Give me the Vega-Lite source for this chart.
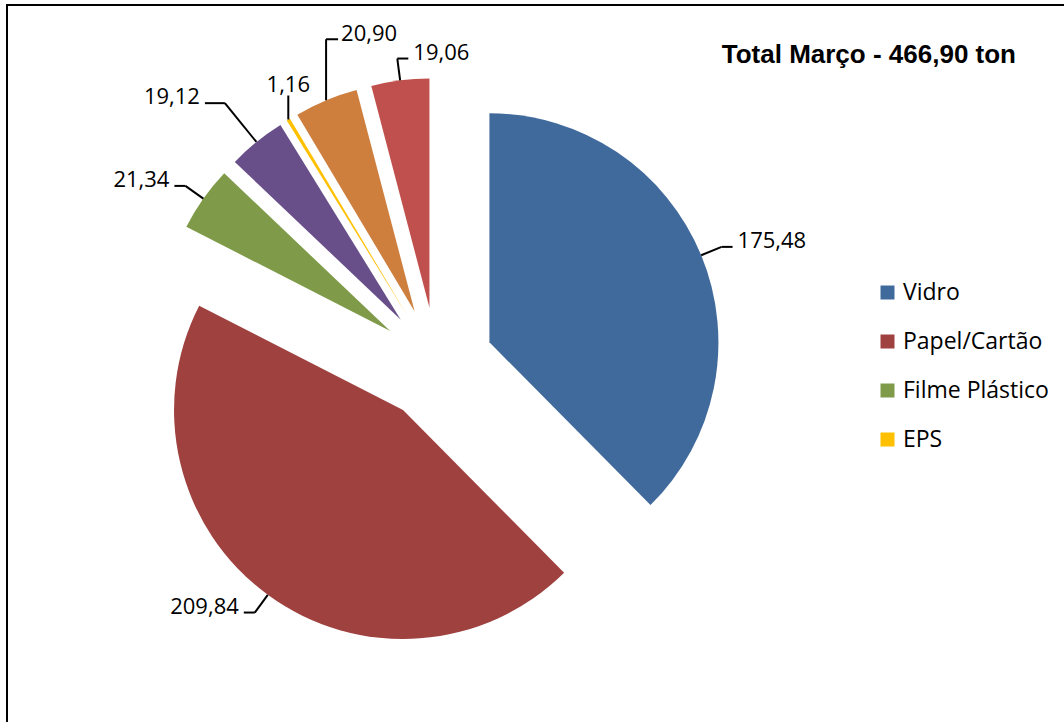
{
  "$schema": "https://vega.github.io/schema/vega-lite/v6.json",
  "width": 1064,
  "height": 722,
  "autosize": {"type": "none"},
  "padding": {"left": 7, "top": 5, "right": 0, "bottom": 0},
  "background": "white",
  "config": {"view": {"stroke": "black", "strokeWidth": 2}, "font": "Open Sans"},
  "title": {
    "text": "Total Março - 466,90 ton",
    "anchor": "end",
    "frame": "group",
    "font": "Liberation Sans",
    "fontSize": 26,
    "fontWeight": "bold",
    "color": "black",
    "baseline": "alphabetic",
    "offset": 0,
    "dx": -55,
    "dy": 84
  },
  "data": {
    "values": [
      {"categoria": "Vidro", "valor": 175.48, "ordem": 1},
      {"categoria": "Papel/Cartão", "valor": 209.84, "ordem": 2},
      {"categoria": "Filme Plástico", "valor": 21.34, "ordem": 3},
      {"categoria": "Plástico Rígido", "valor": 19.12, "ordem": 4},
      {"categoria": "EPS", "valor": 1.16, "ordem": 5},
      {"categoria": "Metal", "valor": 20.90, "ordem": 6},
      {"categoria": "Outros", "valor": 19.06, "ordem": 7}
    ]
  },
  "transform": [
    {"joinaggregate": [{"op": "sum", "field": "valor", "as": "total"}]},
    {"window": [{"op": "sum", "field": "valor", "as": "acum"}], "sort": [{"field": "ordem", "order": "ascending"}], "frame": [null, 0]},
    {"calculate": "2*PI*(datum.acum - datum.valor)/datum.total", "as": "a0"},
    {"calculate": "2*PI*datum.acum/datum.total", "as": "a1"},
    {"calculate": "(datum.a0 + datum.a1)/2", "as": "am"},
    {"calculate": "sin(datum.am)", "as": "sx"},
    {"calculate": "-cos(datum.am)", "as": "sy"},
    {"calculate": "57*datum.sx", "as": "cx"},
    {"calculate": "57*datum.sy", "as": "cy"},
    {"calculate": "datum.sx >= -0.2 ? 1 : -1", "as": "lado"},
    {"calculate": "(datum.valor/datum.total < 0.1 && datum.ordem % 2 == 0) ? 1 : 0", "as": "longo"},
    {"calculate": "(datum.sy < -0.8 && datum.sx < -0.2) ? (datum.longo == 1 ? 2 : 1) : 0", "as": "modo"},
    {"calculate": "datum.longo == 1 ? 279 : 251", "as": "rl"},
    {"calculate": "datum.longo == 1 ? 20 : 11", "as": "hl"},
    {"calculate": "datum.cx + 229*datum.sx", "as": "ex0"},
    {"calculate": "datum.cy + 229*datum.sy", "as": "ey0"},
    {"calculate": "datum.modo > 0 ? datum.ex0 : datum.cx + datum.rl*datum.sx", "as": "ex1"},
    {"calculate": "datum.modo == 1 ? datum.ey0 - 24 : (datum.modo == 2 ? datum.ey0 - 61 : datum.cy + datum.rl*datum.sy)", "as": "ey1"},
    {"calculate": "datum.modo == 1 ? datum.ex1 : (datum.modo == 2 ? datum.ex1 + 12 : datum.ex1 + datum.hl*datum.lado)", "as": "ex2"},
    {"calculate": "datum.modo == 1 ? datum.ex1 : (datum.modo == 2 ? datum.ex2 + 3 : datum.ex2 + 5*datum.lado)", "as": "tx"},
    {"calculate": "datum.modo == 1 ? datum.ey1 - 4 : (datum.modo == 2 ? datum.ey1 + 1 : datum.ey1)", "as": "ty"},
    {"calculate": "replace(format(datum.valor, '.2f'), '.', ',')", "as": "rotulo"}
  ],
  "layer": [
    {
      "mark": {"type": "arc", "radius": 229, "strokeWidth": 0},
      "encoding": {
        "theta": {"field": "a0", "type": "quantitative", "scale": null, "stack": null},
        "theta2": {"field": "a1"},
        "x": {"field": "cx", "type": "quantitative", "scale": {"domain": [-500, 500], "range": [-70.3, 929.7], "nice": false, "zero": false}, "axis": null},
        "y": {"field": "cy", "type": "quantitative", "scale": {"domain": [-500, 500], "range": [-141, 859], "nice": false, "zero": false}, "axis": null},
        "color": {
          "field": "categoria",
          "type": "nominal",
          "scale": {
            "domain": ["Vidro", "Papel/Cartão", "Filme Plástico", "Plástico Rígido", "EPS", "Metal", "Outros"],
            "range": ["#416A9C", "#9E413F", "#7F9B49", "#684F89", "#FFC000", "#CE7E3D", "#C0504D"]
          },
          "legend": {
            "values": ["Vidro", "Papel/Cartão", "Filme Plástico", "EPS"],
            "title": null,
            "orient": "none",
            "legendX": 869,
            "legendY": 276,
            "symbolType": "square",
            "symbolSize": 196,
            "symbolStrokeWidth": 0,
            "labelFont": "Open Sans",
            "labelFontSize": 23,
            "labelColor": "black",
            "labelOffset": 4,
            "rowPadding": 25,
            "labelLimit": 300,
            "padding": 0
          }
        },
        "order": {"field": "ordem"}
      }
    },
    {
      "mark": {"type": "rule", "color": "black", "strokeWidth": 2},
      "encoding": {
        "x": {"field": "ex0", "type": "quantitative", "scale": {"domain": [-500, 500], "range": [-70.3, 929.7], "nice": false, "zero": false}, "axis": null},
        "y": {"field": "ey0", "type": "quantitative", "scale": {"domain": [-500, 500], "range": [-141, 859], "nice": false, "zero": false}, "axis": null},
        "x2": {"field": "ex1"},
        "y2": {"field": "ey1"}
      }
    },
    {
      "transform": [{"filter": "datum.modo != 1"}],
      "mark": {"type": "rule", "color": "black", "strokeWidth": 2},
      "encoding": {
        "x": {"field": "ex1", "type": "quantitative", "scale": {"domain": [-500, 500], "range": [-70.3, 929.7], "nice": false, "zero": false}, "axis": null},
        "y": {"field": "ey1", "type": "quantitative", "scale": {"domain": [-500, 500], "range": [-141, 859], "nice": false, "zero": false}, "axis": null},
        "x2": {"field": "ex2"},
        "y2": {"field": "ey1"}
      }
    },
    {
      "transform": [{"filter": "(datum.lado > 0 && datum.modo == 0) || datum.modo == 2"}],
      "mark": {"type": "text", "align": "left", "baseline": "alphabetic", "font": "Open Sans", "fontSize": 22, "color": "black", "dy": 1},
      "encoding": {
        "x": {"field": "tx", "type": "quantitative", "scale": {"domain": [-500, 500], "range": [-70.3, 929.7], "nice": false, "zero": false}, "axis": null},
        "y": {"field": "ty", "type": "quantitative", "scale": {"domain": [-500, 500], "range": [-141, 859], "nice": false, "zero": false}, "axis": null},
        "text": {"field": "rotulo"}
      }
    },
    {
      "transform": [{"filter": "datum.lado < 0 && datum.modo == 0"}],
      "mark": {"type": "text", "align": "right", "baseline": "alphabetic", "font": "Open Sans", "fontSize": 22, "color": "black", "dy": 1},
      "encoding": {
        "x": {"field": "tx", "type": "quantitative", "scale": {"domain": [-500, 500], "range": [-70.3, 929.7], "nice": false, "zero": false}, "axis": null},
        "y": {"field": "ty", "type": "quantitative", "scale": {"domain": [-500, 500], "range": [-141, 859], "nice": false, "zero": false}, "axis": null},
        "text": {"field": "rotulo"}
      }
    },
    {
      "transform": [{"filter": "datum.modo == 1"}],
      "mark": {"type": "text", "align": "center", "baseline": "alphabetic", "font": "Open Sans", "fontSize": 22, "color": "black"},
      "encoding": {
        "x": {"field": "tx", "type": "quantitative", "scale": {"domain": [-500, 500], "range": [-70.3, 929.7], "nice": false, "zero": false}, "axis": null},
        "y": {"field": "ty", "type": "quantitative", "scale": {"domain": [-500, 500], "range": [-141, 859], "nice": false, "zero": false}, "axis": null},
        "text": {"field": "rotulo"}
      }
    }
  ]
}
